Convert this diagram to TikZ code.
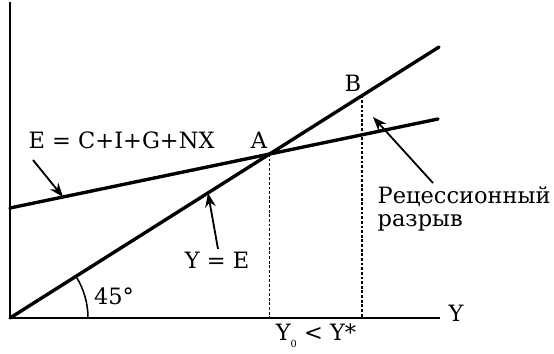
\documentclass[tikz,border=0pt]{standalone}
\usepackage{fontspec}
\setmainfont{DejaVu Serif}
\usetikzlibrary{arrows.meta,calc}

\begin{document}
\begin{tikzpicture}[
  every node/.style={inner sep=1pt, font=\fontsize{16}{16.5}\selectfont},
  axis/.style={line width=1.4pt},
  curve/.style={line width=2.4pt, line cap=round},
  guide/.style={line width=1.1pt, dash pattern=on 2pt off 1.3pt},
  pointer/.style={line width=1.3pt, -{Stealth[length=10pt, width=7.5pt]}}
]
  \useasboundingbox (-0.25,-0.875) rectangle (13.6,7.95);

  % ==========================================
  % 1. EJES Y RECTAS
  % ==========================================
  \coordinate (O) at (0,0);
  \coordinate (Ytop) at (0,7.9);
  \coordinate (Yend) at (10.75,0);
  \draw[axis] (Ytop) -- (O) -- (Yend);

  % recta de 45 grados: Y = E
  \coordinate (P) at (10.725,6.775);
  \draw[curve] (O) -- (P);

  % gasto agregado: E = C+I+G+NX
  \coordinate (Q) at (0,2.75);
  \coordinate (R) at (10.7,4.975);
  \draw[curve] (Q) -- (R);

  % puntos A y B
  \coordinate (A) at (intersection of O--P and Q--R);
  \coordinate (B) at ($(O)!0.8205!(P)$);
  \coordinate (Bx) at (B |- O);

  \draw[guide] (A) -- (A |- O);
  \draw[guide] (B) -- (Bx);

  % angulo
  \draw[line width=1.1pt] (1.95,0) arc[start angle=0, end angle=32.3, radius=1.95];

  % ==========================================
  % 2. ETIQUETAS
  % ==========================================
  \node (lA) at (6.225,4.45) {A};
  \node (lB) at (8.575,5.875) {B};
  \node (lY) at (11.15,0.125) {Y};
  \node (ang) at (2.6,0.55) {45°};
  \node (yy) at (7.65,-0.45) {Y\raisebox{-0.6ex}{\scriptsize 0} < Y*};

  \node (eq) at (2.79,4.45) {E = C+I+G+NX};
  \node (ye) at (5.175,1.45) {Y = E};
  \node[anchor=north west, align=left] (gap) at (9.15,3.33) {Рецессионный\\разрыв};

  % flechas
  \coordinate (eqs) at (0.575,3.95);
  \coordinate (eqt) at (1.325,3.025);
  \draw[pointer] (eqs) -- (eqt);

  \coordinate (yes) at (5.2,1.725);
  \coordinate (yet) at (4.95,3.125);
  \draw[pointer] (yes) -- (yet);

  \coordinate (gaps) at (10.575,3.375);
  \coordinate (gapt) at (9.075,5.025);
  \draw[pointer] (gaps) -- (gapt);

\end{tikzpicture}
\end{document}
